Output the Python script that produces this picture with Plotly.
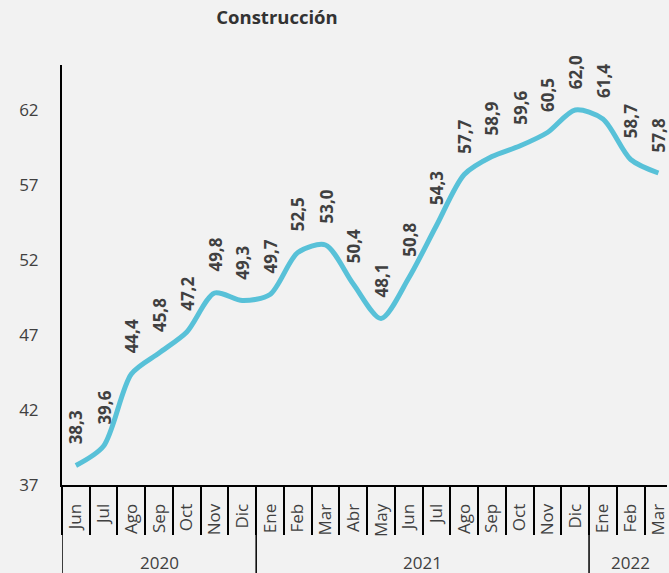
import plotly.graph_objects as go

months = ["Jun", "Jul", "Ago", "Sep", "Oct", "Nov", "Dic",
          "Ene", "Feb", "Mar", "Abr", "May", "Jun", "Jul", "Ago", "Sep", "Oct", "Nov", "Dic",
          "Ene", "Feb", "Mar"]
values = [38.3, 39.6, 44.4, 45.8, 47.2, 49.8, 49.3,
          49.7, 52.5, 53.0, 50.4, 48.1, 50.8, 54.3, 57.7, 58.9, 59.6, 60.5, 62.0,
          61.4, 58.7, 57.8]
years = ["2020", "2021", "2022"]
year_counts = [7, 12, 3]
y_ticks = [37, 42, 47, 52, 57, 62]

FONT = "Open Sans"
GREY = "#404040"
LINE = "#58C1D8"
BG = "#F2F2F2"

idx = list(range(len(values)))

fig = go.Figure()
fig.add_trace(go.Scatter(
    x=idx, y=values, mode="lines",
    line=dict(color=LINE, width=5, shape="spline", smoothing=0.8),
    hoverinfo="skip", showlegend=False, cliponaxis=False,
))

annotations = []
for i, v in zip(idx, values):
    annotations.append(dict(
        x=i, y=v, xref="x", yref="y", text=f"{v:.1f}".replace(".", ","),
        textangle=-90, showarrow=False, xanchor="center", yanchor="bottom",
        yshift=19, font=dict(family=FONT, size=17, color=GREY, weight="bold"),
    ))

# year labels and dividers
shapes = []
start = 0
for yr, n in zip(years, year_counts):
    center = start + (n - 1) / 2
    annotations.append(dict(
        x=center, y=-0.185, xref="x", yref="paper", text=yr, showarrow=False,
        xanchor="center", yanchor="middle",
        font=dict(family=FONT, size=17, color=GREY),
    ))
    boundary = start - 0.5
    shapes.append(dict(
        type="line", xref="x", yref="paper", x0=boundary, x1=boundary,
        y0=0, y1=-0.3, line=dict(color="black", width=1.5),
    ))
    start += n

fig.update_layout(
    width=669, height=573,
    margin=dict(l=62, r=0, t=65, b=88),
    paper_bgcolor=BG, plot_bgcolor=BG,
    title=dict(text="<b>Construcción</b>", x=277 / 669, xref="container", xanchor="center",
               y=1 - 18 / 573, yref="container", yanchor="middle",
               font=dict(family=FONT, size=18.5, color="#333333")),
    annotations=annotations,
    shapes=shapes,
    showlegend=False,
)

fig.update_xaxes(
    range=[-0.5, 21.31], tickmode="array", tickvals=idx, ticktext=months,
    tickangle=-90, ticks="", ticklabelstandoff=10, ticklabeloverflow="allow",
    tickfont=dict(family=FONT, size=17, color=GREY),
    showline=True, linecolor="black", linewidth=2, showgrid=False, zeroline=False,
    minor=dict(tickmode="array", tickvals=[i - 0.5 for i in idx], ticks="outside",
               ticklen=48, tickwidth=2, tickcolor="black", showgrid=False),
)
fig.update_yaxes(
    range=[37, 65], tickmode="array", tickvals=y_ticks, ticks="",
    ticklabelstandoff=18,
    tickfont=dict(family=FONT, size=17, color=GREY),
    showline=True, linecolor="black", linewidth=2, showgrid=False, zeroline=False,
)

fig.write_html(
    "out.html",
    config={"displayModeBar": False},
    post_script="document.body.style.margin='0';document.body.style.overflow='hidden';"
                "document.body.style.background='#F2F2F2';",
)
